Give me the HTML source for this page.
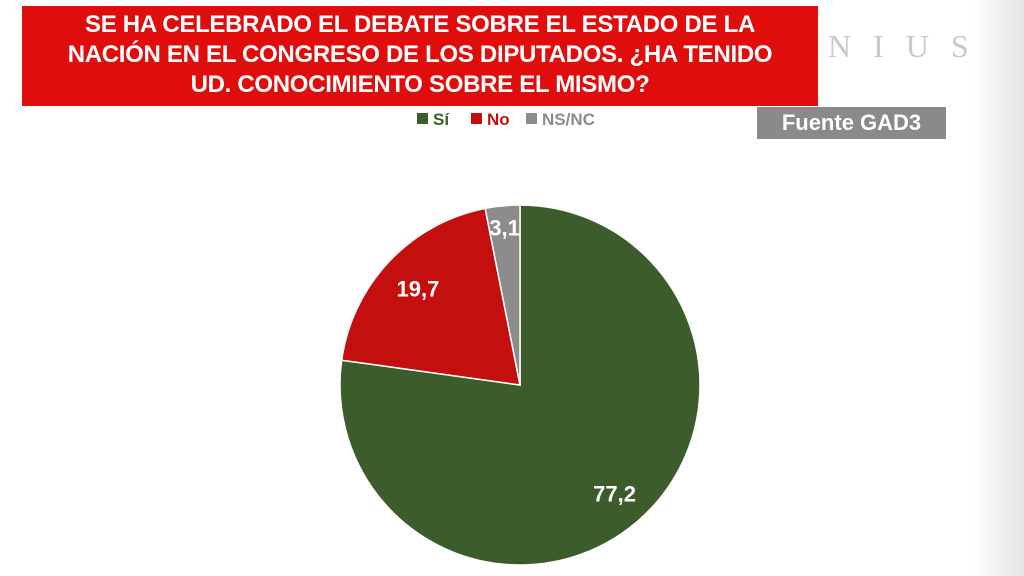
<!DOCTYPE html>
<html><head><meta charset="utf-8"><style>
body{margin:0;width:1024px;height:576px;overflow:hidden;background:#fff;font-family:"Liberation Sans Narrow","Liberation Sans",sans-serif;position:relative}
#title{position:absolute;left:22px;top:6px;width:796px;height:100px;background:#e00d0d;color:#fff;font-weight:bold;font-size:24px;line-height:30px;text-align:center;padding-top:4px;box-sizing:border-box;letter-spacing:-0.3px}
#src{position:absolute;left:757px;top:107px;width:189px;height:32px;background:#8a8a8a;color:#fff;font-weight:bold;font-size:22px;line-height:32px;text-align:center}
#logo{position:absolute;left:828px;top:28px;font-family:"Liberation Serif",serif;font-size:32px;color:#c8c8c8;letter-spacing:22px}
#edge{position:absolute;right:0;top:0;width:50px;height:576px;background:linear-gradient(to right,#fff,#e4e4e4)}
</style></head><body>
<div id="edge"></div>
<div id="title">SE HA CELEBRADO EL DEBATE SOBRE EL ESTADO DE LA<br>NACIÓN EN EL CONGRESO DE LOS DIPUTADOS. ¿HA TENIDO<br>UD. CONOCIMIENTO SOBRE EL MISMO?</div>
<div id="logo">NIUS</div>
<div id="src">Fuente GAD3</div>
<svg id="chart" width="1024" height="576" style="position:absolute;left:0;top:0"></svg>
<script>
const categories=["Sí","No","NS/NC"];
const values=[77.2,19.7,3.1];
const labels=["77,2","19,7","3,1"];
const colors=["#3d5c2b","#c40f0f","#8c8c8c"];
const NS="http://www.w3.org/2000/svg";
const svg=document.getElementById('chart');
const cx=520,cy=385,r=180;
const total=values.reduce((a,b)=>a+b,0);
function pt(a,rr){return [cx+rr*Math.sin(a),cy-rr*Math.cos(a)];}
let a0=0;
const labelR=[0.8,0.78,0.88];
values.forEach((v,i)=>{
  const a1=a0+v/total*2*Math.PI;
  const p0=pt(a0,r),p1=pt(a1,r);
  const path=document.createElementNS(NS,'path');
  path.setAttribute('d',`M${cx},${cy}L${p0[0]},${p0[1]}A${r},${r} 0 ${a1-a0>Math.PI?1:0} 1 ${p1[0]},${p1[1]}Z`);
  path.setAttribute('fill',colors[i]);
  path.setAttribute('stroke','#fff');path.setAttribute('stroke-width','1.5');
  
  
  svg.appendChild(path);
  const m=(a0+a1)/2;const lp=pt(m,r*labelR[i]);
  const t=document.createElementNS(NS,'text');
  t.setAttribute('x',lp[0]);t.setAttribute('y',lp[1]+8);
  t.setAttribute('text-anchor','middle');t.setAttribute('fill','#fff');
  t.setAttribute('font-size','22');t.setAttribute('font-weight','bold');
  t.setAttribute('font-family','"Liberation Sans",sans-serif');
  t.textContent=labels[i];
  
  
  svg.appendChild(t);
  a0=a1;
});
let lx=417;
categories.forEach((c,i)=>{
  const g=document.createElementNS(NS,'g');
  
  
  const rc=document.createElementNS(NS,'rect');
  rc.setAttribute('x',lx);rc.setAttribute('y',113);rc.setAttribute('width',11);rc.setAttribute('height',11);rc.setAttribute('fill',colors[i]);
  g.appendChild(rc);
  const t=document.createElementNS(NS,'text');
  t.setAttribute('x',lx+16);t.setAttribute('y',125);t.setAttribute('font-size','17');t.setAttribute('font-weight','bold');
  t.setAttribute('font-family','"Liberation Sans Narrow","Liberation Sans",sans-serif');
  t.setAttribute('fill',i==1?'#c40f0f':(i==2?'#8c8c8c':'#3d5c2b'));
  t.textContent=c;g.appendChild(t);
  svg.appendChild(g);
  lx+= [54,55,0][i];
});
</script>
</body></html>
